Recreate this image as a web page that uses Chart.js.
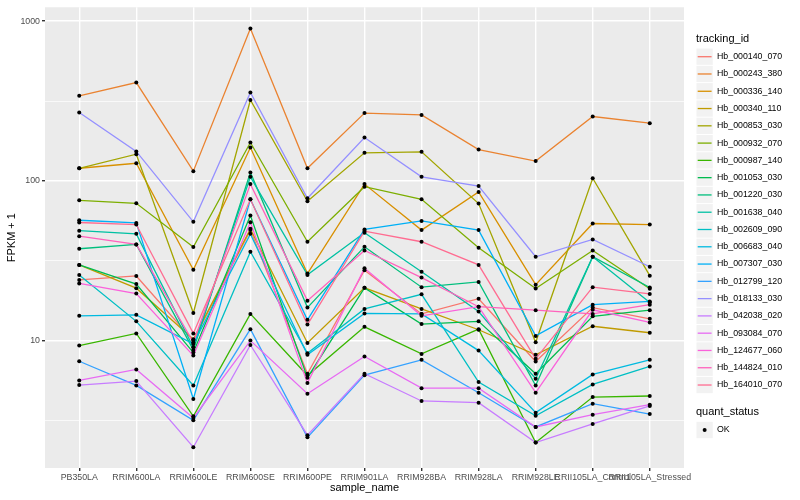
<!DOCTYPE html>
<html>
<head>
<meta charset="utf-8">
<script src="https://cdn.jsdelivr.net/npm/chart.js@4.4.0/dist/chart.umd.min.js"></script>
<style>
  html, body { margin: 0; padding: 0; background: #fff; }
  #wrap { width: 800px; height: 500px; }
</style>
</head>
<body>
<div id="wrap"><canvas id="chart" width="800" height="500"></canvas></div>
<script>
const samples = ["PB350LA", "RRIM600LA", "RRIM600LE", "RRIM600SE", "RRIM600PE", "RRIM901LA",
  "RRIM928BA", "RRIM928LA", "RRIM928LE", "RRII105LA_Control", "RRII105LA_Stressed"];

const trackingIds = ["Hb_000140_070", "Hb_000243_380", "Hb_000336_140", "Hb_000340_110",
  "Hb_000853_030", "Hb_000932_070", "Hb_000987_140", "Hb_001053_030", "Hb_001220_030",
  "Hb_001638_040", "Hb_002609_090", "Hb_006683_040", "Hb_007307_030", "Hb_012799_120",
  "Hb_018133_030", "Hb_042038_020", "Hb_093084_070", "Hb_124677_060", "Hb_144824_010",
  "Hb_164010_070"];

// ggplot default hue palette, 20 levels
const colours = ["#F8766D", "#EA8331", "#D89000", "#C09B00", "#A3A500", "#7CAE00", "#39B600",
  "#00BB4E", "#00BF7D", "#00C1A3", "#00BFC4", "#00BAE0", "#00B0F6", "#35A2FF", "#9590FF",
  "#C77CFF", "#E76BF3", "#FA62DB", "#FF62BC", "#FF6C91"];

// FPKM + 1, one value per sample
const hb_000140_070 = [24.0, 25.4, 10.0, 49.2, 6.20, 27.6, 14.7, 18.3, 7.40, 16.1, 13.7];
const hb_000243_380 = [341, 413, 115, 901, 120, 266, 259, 157, 133, 253, 230];
const hb_000336_140 = [120, 129, 27.8, 162, 26.3, 95.5, 49.2, 85.2, 22.4, 54.1, 53.3];
const hb_000340_110 = [29.8, 21.3, 10.2, 50.1, 9.67, 21.4, 15.8, 11.7, 8.15, 12.3, 11.2];
const hb_000853_030 = [120, 147, 14.9, 321, 74.5, 150, 152, 72.1, 9.76, 104, 25.5];
const hb_000932_070 = [75.6, 72.4, 38.5, 174, 41.6, 92.0, 76.7, 38.1, 21.2, 36.7, 21.1];
const hb_000987_140 = [9.31, 11.1, 3.36, 14.7, 6.05, 12.2, 8.26, 11.8, 2.30, 4.43, 4.50];
const hb_001053_030 = [29.8, 22.6, 8.42, 60.7, 5.86, 21.4, 12.7, 13.2, 6.20, 14.2, 15.5];
const hb_001220_030 = [37.6, 40.0, 8.75, 113, 16.1, 38.7, 21.6, 23.3, 5.24, 33.5, 21.5];
const hb_001638_040 = [48.8, 46.6, 9.08, 106, 25.8, 47.3, 27.0, 15.2, 5.77, 33.5, 17.3];
const hb_002609_090 = [25.8, 13.2, 5.24, 36.0, 8.34, 15.8, 19.5, 5.50, 3.38, 5.32, 6.89];
const hb_006683_040 = [14.3, 14.5, 9.54, 46.6, 8.15, 14.8, 14.7, 8.66, 3.54, 6.14, 7.58];
const hb_007307_030 = [56.7, 54.6, 4.31, 76.7, 13.5, 49.7, 56.2, 49.2, 10.7, 16.8, 17.6];
const hb_012799_120 = [7.43, 5.24, 3.17, 11.8, 2.48, 6.08, 7.58, 4.72, 2.88, 4.03, 3.47];
const hb_018133_030 = [268, 153, 55.4, 358, 77.8, 187, 106, 92.8, 33.5, 43.0, 29.0];
const hb_042038_020 = [5.27, 5.58, 2.15, 9.40, 2.56, 6.20, 4.19, 4.09, 2.30, 3.01, 3.90];
const hb_093084_070 = [5.63, 6.60, 3.28, 10.0, 4.65, 7.95, 5.04, 5.04, 2.88, 3.44, 3.97];
const hb_124677_060 = [22.8, 19.7, 8.06, 55.1, 5.42, 28.4, 14.3, 16.3, 4.72, 15.6, 13.0];
const hb_144824_010 = [45.1, 40.0, 9.76, 95.5, 17.8, 36.7, 24.8, 16.3, 15.5, 14.7, 16.8];
const hb_164010_070 = [54.9, 53.3, 11.1, 76.7, 12.6, 48.5, 41.6, 29.8, 7.69, 21.6, 19.6];

const seriesValues = [hb_000140_070, hb_000243_380, hb_000336_140, hb_000340_110, hb_000853_030,
  hb_000932_070, hb_000987_140, hb_001053_030, hb_001220_030, hb_001638_040, hb_002609_090,
  hb_006683_040, hb_007307_030, hb_012799_120, hb_018133_030, hb_042038_020, hb_093084_070,
  hb_124677_060, hb_144824_010, hb_164010_070];

const yMajorTicks = [10, 100, 1000];
const yMinorTicks = [3.1623, 31.623, 316.23];

const FONT = "'Liberation Sans', Arial, sans-serif";
const isMinor = (v) => yMinorTicks.includes(v);

const datasets = seriesValues.map((values, i) => ({
  label: trackingIds[i],
  data: values.map((v, j) => ({ x: j, y: v })),
  borderColor: colours[i],
  borderWidth: 1.3,
  pointRadius: 0,
  tension: 0,
  order: seriesValues.length - i, // last level on top, like ggplot
}));

const ggPanel = {
  id: "ggPanel",
  beforeDraw(chart) {
    const { ctx, chartArea: a } = chart;
    ctx.save();
    ctx.fillStyle = "#EBEBEB";
    ctx.fillRect(a.left, a.top, a.right - a.left, a.bottom - a.top);
    ctx.restore();
  },
  afterDatasetsDraw(chart) {
    // quant_status points go over every line
    const ctx = chart.ctx;
    ctx.save();
    ctx.fillStyle = "#000";
    chart.getSortedVisibleDatasetMetas().forEach((meta) => {
      meta.data.forEach((p) => {
        ctx.beginPath();
        ctx.arc(p.x, p.y, 2, 0, Math.PI * 2);
        ctx.fill();
      });
    });
    ctx.restore();
  },
  afterDraw(chart) {
    const ctx = chart.ctx;
    const x0 = 696;
    const key = 17.28;
    ctx.save();
    ctx.textBaseline = "middle";
    ctx.textAlign = "left";
    ctx.fillStyle = "#000";
    ctx.font = "11px " + FONT;
    ctx.fillText("tracking_id", x0, 39);
    ctx.font = "8.8px " + FONT;
    trackingIds.forEach((id, i) => {
      const cy = 56.7 + i * key;
      ctx.fillStyle = "#F2F2F2";
      ctx.fillRect(x0 + 0.5, cy - key / 2 + 0.5, key - 1, key - 1);
      ctx.strokeStyle = colours[i];
      ctx.lineWidth = 1.3;
      ctx.beginPath();
      ctx.moveTo(x0 + 1.7, cy);
      ctx.lineTo(x0 + key - 1.7, cy);
      ctx.stroke();
      ctx.fillStyle = "#000";
      ctx.fillText(id, x0 + 21, cy);
    });
    ctx.font = "11px " + FONT;
    ctx.fillText("quant_status", x0, 412);
    const cy = 430;
    ctx.fillStyle = "#F2F2F2";
    ctx.fillRect(x0 + 0.5, cy - key / 2 + 0.5, key - 1, key - 1);
    ctx.fillStyle = "#000";
    ctx.beginPath();
    ctx.arc(x0 + key / 2, cy, 2, 0, Math.PI * 2);
    ctx.fill();
    ctx.font = "8.8px " + FONT;
    ctx.fillText("OK", x0 + 21, cy);
    ctx.restore();
  },
};

new Chart(document.getElementById("chart"), {
  type: "line",
  data: { datasets },
  options: {
    responsive: false,
    animation: false,
    layout: { padding: { left: 0, right: 116, top: 5, bottom: 0 } },
    plugins: { legend: { display: false }, tooltip: { enabled: false } },
    scales: {
      x: {
        type: "linear",
        min: -0.6,
        max: 10.6,
        afterBuildTicks: (s) => { s.ticks = samples.map((_, i) => ({ value: i })); },
        afterFit: (s) => { s.height = 32; },
        ticks: {
          autoSkip: false,
          maxRotation: 0,
          minRotation: 0,
          padding: 1,
          color: "#4D4D4D",
          font: { family: FONT, size: 8.8 },
          callback: (v) => samples[v],
        },
        grid: { color: "#FFFFFF", lineWidth: 1.4, tickColor: "#333333", tickLength: 3 },
        border: { display: false },
        title: {
          display: true,
          text: "sample_name",
          color: "#000",
          font: { family: FONT, size: 11 },
          padding: { top: 0, bottom: 5 },
        },
      },
      y: {
        type: "logarithmic",
        min: 1.594,
        max: 1222,
        afterBuildTicks: (s) => {
          s.ticks = [...yMinorTicks, ...yMajorTicks].sort((a, b) => a - b).map((v) => ({ value: v }));
        },
        afterFit: (s) => { s.width = 45; },
        ticks: {
          autoSkip: false,
          padding: 2,
          color: "#4D4D4D",
          font: { family: FONT, size: 8.8 },
          callback: (v) => (yMajorTicks.includes(v) ? String(v) : ""),
        },
        grid: {
          color: "#FFFFFF",
          lineWidth: (c) => (c.tick && isMinor(c.tick.value) ? 0.7 : 1.4),
          tickColor: (c) => (c.tick && isMinor(c.tick.value) ? "rgba(0,0,0,0)" : "#333333"),
          tickLength: 3,
        },
        border: { display: false },
        title: {
          display: true,
          text: "FPKM + 1",
          color: "#000",
          font: { family: FONT, size: 11 },
          padding: { top: 5, bottom: 0 },
        },
      },
    },
  },
  plugins: [ggPanel],
});
</script>
</body>
</html>
